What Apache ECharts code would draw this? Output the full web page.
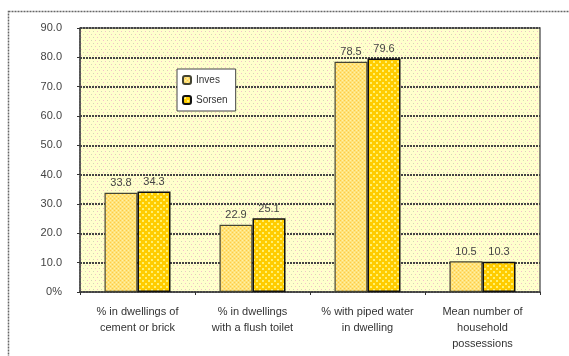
<!DOCTYPE html>
<html><head><meta charset="utf-8">
<script src="https://cdn.jsdelivr.net/npm/echarts@6/dist/echarts.min.js"></script>
<style>html,body{margin:0;padding:0;background:#fff}#c{width:569px;height:356px}</style>
</head><body><div id="c"></div>
<script>
var categories = ['% in dwellings of\ncement or brick', '% in dwellings\nwith a flush toilet', '% with piped water\nin dwelling', 'Mean number of\nhousehold\npossessions'];
var seriesNames = ['Inves', 'Sorsen'];
var series1 = [33.8, 22.9, 78.5, 10.5];
var series2 = [34.3, 25.1, 79.6, 10.3];
var yTicks = {min: 0, max: 90, interval: 10};

function makePattern(bg, dots, w, h, ds) {
  var c = document.createElement('canvas');
  c.width = w; c.height = h || w;
  var g = c.getContext('2d');
  g.fillStyle = bg; g.fillRect(0, 0, w, h || w);
  dots.forEach(function (d) { g.fillStyle = d[2]; g.fillRect(d[0], d[1], ds || 1, ds || 1); });
  return {image: c, repeat: 'repeat'};
}
var bgPat = makePattern('#FFFFCC', [[1,1,'#F5C0CA'],[5,1,'#D2DAB4'],[3,4,'#D2DAB4'],[7,4,'#F5C0CA']], 8, 6, 1);
var s1Pat = makePattern('#FFE27A', [[0,0,'#FFCC44'],[2,2,'#FFCC44'],[2,0,'#FFF2A8'],[0,2,'#FFF2A8']], 4);
var s2Pat = makePattern('#FFCC00', [[1,1,'#FFF070'],[4,4,'#FFF070']], 6, 6, 2);

var chart = echarts.init(document.getElementById('c'), null, {renderer: 'canvas'});
var font = 'Liberation Sans';
chart.setOption({
  animation: false,
  backgroundColor: '#fff',
  textStyle: {fontFamily: font},
  graphic: [{
    type: 'rect', shape: {x: 8.5, y: 11.5, width: 700, height: 400}, silent: true, z: -1,
    style: {fill: null, stroke: '#666', lineWidth: 1.5, lineDash: [2, 1]}
  }],
  legend: {
    orient: 'vertical', left: 177, top: 69,
    data: seriesNames,
    backgroundColor: '#fff', borderColor: '#444', borderWidth: 1,
    padding: [6, 8, 6, 5], itemGap: 10,
    itemWidth: 8, itemHeight: 8,
    textStyle: {fontSize: 10, color: '#333', fontFamily: font}
  },
  grid: {
    left: 80, right: 29, top: 28, bottom: 64, show: true,
    backgroundColor: bgPat, borderColor: '#666', borderWidth: 1.5
  },
  xAxis: {
    type: 'category', data: categories,
    axisLine: {lineStyle: {color: '#444', width: 1.5, type: [2, 1]}},
    axisTick: {show: true, length: 3, lineStyle: {color: '#333'}},
    axisLabel: {fontSize: 11, color: '#333', lineHeight: 16, margin: 12, interval: 0}
  },
  yAxis: {
    type: 'value', min: yTicks.min, max: yTicks.max, interval: yTicks.interval,
    axisLine: {show: true, lineStyle: {color: '#444', width: 1.5, type: [2, 1]}},
    axisTick: {show: true, length: 3, lineStyle: {color: '#333'}},
    splitLine: {lineStyle: {color: '#444', width: 2, type: [2, 1]}},
    axisLabel: {fontSize: 11, color: '#444', margin: 18,
      formatter: function (v) { return v === 0 ? '0%' : v.toFixed(1); }}
  },
  series: [{
    name: seriesNames[0], type: 'bar', data: series1,
    barWidth: 33, barGap: '0%',
    itemStyle: {color: s1Pat, borderColor: '#443', borderWidth: 1.2},
    label: {show: true, position: 'top', fontSize: 11, color: '#444', distance: 4,
      formatter: function (p) { return p.value.toFixed(1); }}
  }, {
    name: seriesNames[1], type: 'bar', data: series2,
    barWidth: 33,
    itemStyle: {color: s2Pat, borderColor: '#111', borderWidth: 1.5},
    label: {show: true, position: 'top', fontSize: 11, color: '#444', distance: 4,
      formatter: function (p) { return p.value.toFixed(1); }}
  }]
});
</script></body></html>
